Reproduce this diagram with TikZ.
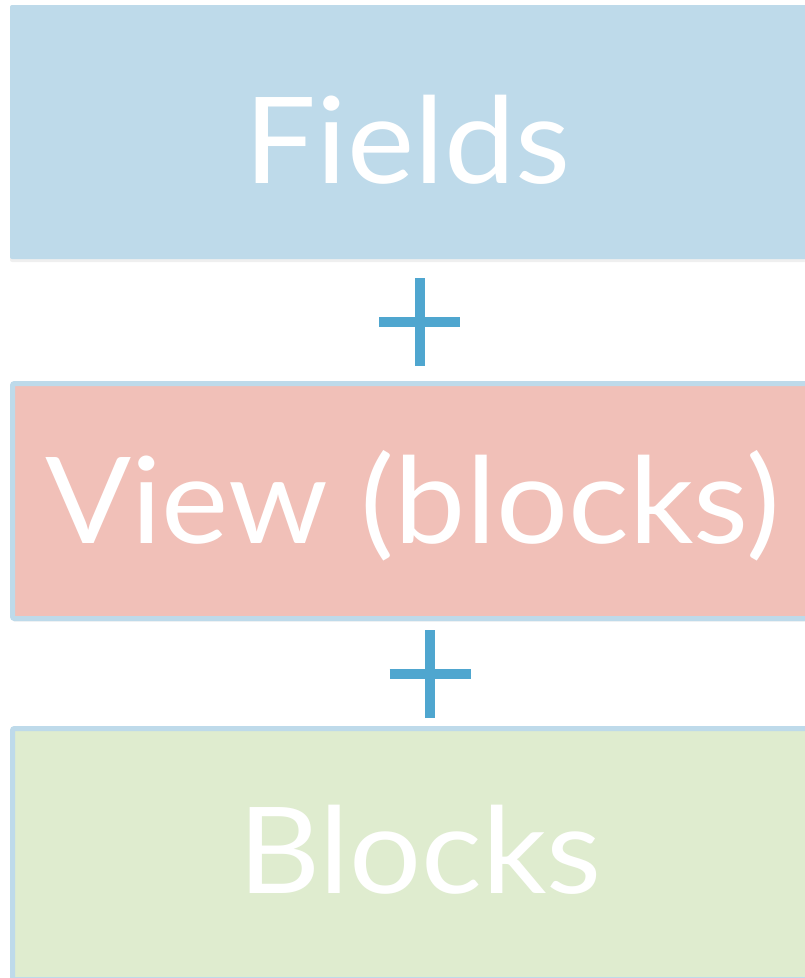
\documentclass[tikz,border=0pt]{standalone}
\usepackage{fontspec}
\setmainfont{Lato}[FakeStretch=1.06]
\usepackage{xcolor}
\usepackage{tikz}
\usetikzlibrary{positioning, shadows}
\definecolor{fieldblue}{HTML}{BEDAEA}
\definecolor{viewpink}{HTML}{F1C0B8}
\definecolor{blockgreen}{HTML}{DFECCF}
\definecolor{plusblue}{HTML}{4FA6CF}

\begin{document}
\begin{tikzpicture}[x=1pt, y=-1pt,
  box/.style={rectangle, rounded corners=2pt, inner sep=0pt,
    drop shadow={shadow xshift=0pt, shadow yshift=-3pt, opacity=0.12}},
  framed/.style={box, draw=fieldblue, line width=5pt},
  bigtext/.style={anchor=base, inner sep=0pt, text=white, font=\fontsize{120}{120}\selectfont},
  plusline/.style={draw=plusblue, line width=10pt}]
\useasboundingbox (0,0) rectangle (804,978);
\fill[white] (0,0) rectangle (804,978);
% the three boxes
\node[box, fill=fieldblue, minimum width=820, minimum height=254] at (420,132) (fields) {};
\node[framed, fill=viewpink, minimum width=815, minimum height=235] at (420,501) (view) {};
\node[framed, fill=blockgreen, minimum width=815, minimum height=251] at (420,854) (blocks) {};
\node[bigtext] at (407.5,183) (fieldstxt) {Fields};
\node[bigtext] at (412.5,543) (viewtxt) {View (blocks)};
\node[bigtext] at (420,893) (blockstxt) {Blocks};
% plus signs
\coordinate (plusA) at (419.5,321.5);
\coordinate (plusB) at (430,674);
\foreach \p in {plusA, plusB}{
  \draw[plusline] ([xshift=-40.5pt]\p) -- ([xshift=40.5pt]\p);
  \draw[plusline] ([yshift=-44pt]\p) -- ([yshift=44pt]\p);
}
\end{tikzpicture}
\end{document}
